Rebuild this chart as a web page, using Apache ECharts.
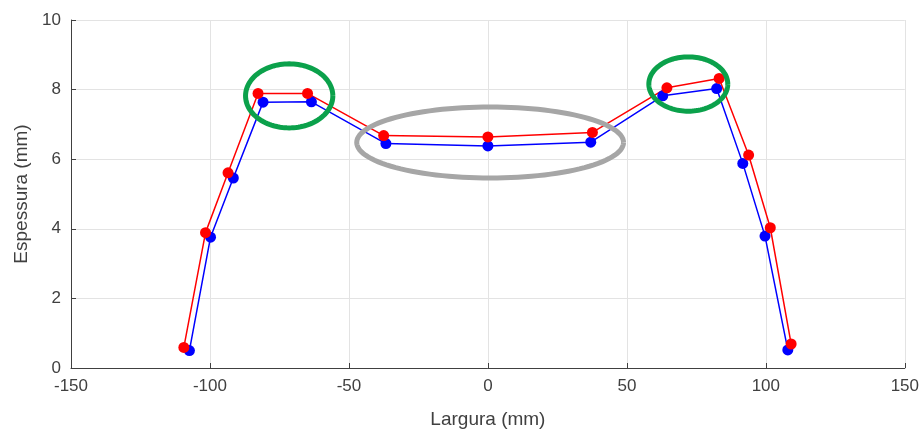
<!DOCTYPE html>
<html><head><meta charset="utf-8">
<script src="https://cdn.jsdelivr.net/npm/echarts@6/dist/echarts.min.js"></script>
<style>html,body{margin:0;padding:0;background:#fff}#c{width:922px;height:434px}</style>
</head><body><div id="c"></div>
<script>
// Data
const redX = [-109.4, -101.6, -93.5, -82.7, -64.9, -37.5, 0, 37.6, 64.4, 83.2, 93.8, 101.6, 109.1];
const redY = [0.59, 3.89, 5.61, 7.89, 7.89, 6.68, 6.64, 6.77, 8.05, 8.32, 6.12, 4.03, 0.69];
const blueX = [-107.4, -99.8, -91.6, -80.9, -63.5, -36.7, 0, 37.0, 62.9, 82.3, 91.7, 99.7, 107.9];
const blueY = [0.50, 3.76, 5.46, 7.64, 7.65, 6.45, 6.38, 6.49, 7.82, 8.03, 5.88, 3.79, 0.52];
const xTicks = [-150, -100, -50, 0, 50, 100, 150];
const yTicks = [0, 2, 4, 6, 8, 10];
// annotation ellipses: [centerX, centerY, radiusX, radiusY] in data units
const greenEllipses = [[-71.5, 7.82, 15.7, 0.92], [72.1, 8.16, 14.2, 0.78]];
const grayEllipses = [[0.8, 6.48, 48, 1.02]];

const pairs = (xs, ys) => xs.map((x, i) => [x, ys[i]]);

function ellipseRender(color) {
  return function (params, api) {
    const c = api.coord([api.value(0), api.value(1)]);
    const s = api.size([api.value(2), api.value(3)]);
    const pts = [];
    for (let k = 0; k <= 120; k++) {
      const t = k / 120 * Math.PI * 2;
      pts.push([c[0] + s[0] * Math.cos(t), c[1] + s[1] * Math.sin(t)]);
    }
    return { type: 'polyline', shape: { points: pts }, style: { stroke: color, lineWidth: 5, fill: null }, z2: 1 };
  };
}

const chart = echarts.init(document.getElementById('c'));
const font = 'Liberation Sans, Arial, sans-serif';
chart.setOption({
  animation: false,
  grid: { left: 71, right: 16, top: 20, bottom: 66 },
  xAxis: {
    type: 'value', min: xTicks[0], max: xTicks[xTicks.length - 1], interval: 50,
    name: 'Largura (mm)', nameLocation: 'middle', nameGap: 42,
    nameTextStyle: { fontSize: 19, color: '#404040', fontFamily: font },
    axisLine: { onZero: false, lineStyle: { color: '#404040', width: 1 } },
    axisTick: { inside: true, length: 5, lineStyle: { color: '#404040' } },
    axisLabel: { fontSize: 17, color: '#404040', fontFamily: font, margin: 10 },
    splitLine: { show: true, lineStyle: { color: '#e3e3e3', width: 1 } }
  },
  yAxis: {
    type: 'value', min: yTicks[0], max: yTicks[yTicks.length - 1], interval: 2,
    name: 'Espessura (mm)', nameLocation: 'middle', nameGap: 34,
    nameTextStyle: { fontSize: 19, color: '#404040', fontFamily: font },
    axisLine: { show: true, onZero: false, lineStyle: { color: '#404040', width: 1 } },
    axisTick: { show: true, inside: true, length: 5, lineStyle: { color: '#404040' } },
    axisLabel: { fontSize: 17, color: '#404040', fontFamily: font, margin: 10 },
    splitLine: { show: true, lineStyle: { color: '#e3e3e3', width: 1 } }
  },
  series: [
    { type: 'line', data: pairs(blueX, blueY), symbol: 'circle', symbolSize: 11,
      lineStyle: { color: '#0000ff', width: 1.5 }, itemStyle: { color: '#0000ff' }, z: 3 },
    { type: 'line', data: pairs(redX, redY), symbol: 'circle', symbolSize: 11,
      lineStyle: { color: '#ff0000', width: 1.5 }, itemStyle: { color: '#ff0000' }, z: 3 },
    { type: 'custom', data: greenEllipses, renderItem: ellipseRender('#0ba14b'), z: 5, silent: true },
    { type: 'custom', data: grayEllipses, renderItem: ellipseRender('#a6a6a6'), z: 5, silent: true }
  ]
});
</script></body></html>
